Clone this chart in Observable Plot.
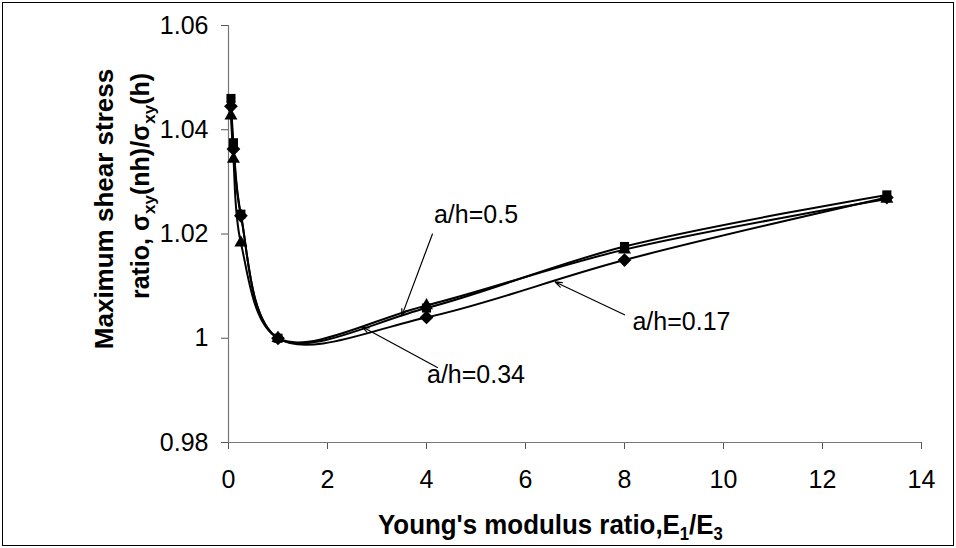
<!DOCTYPE html>
<html><head><meta charset="utf-8">
<script src="https://cdn.jsdelivr.net/npm/d3@7"></script>
<script src="https://cdn.jsdelivr.net/npm/@observablehq/plot@0.6"></script>
<style>body{margin:0;background:#fff}</style>
</head><body><div id="chart"></div>
<script>
const xs = [0.05, 0.1, 0.25, 1, 4, 8, 13.3];
const diamondY = [1.0445, 1.0363, 1.0235, 1.0, 1.0040, 1.0150, 1.0270];
const squareY = [1.0460, 1.0375, 1.0238, 1.0, 1.0058, 1.0176, 1.0275];
const triangleY = [1.0427, 1.0344, 1.0183, 1.0, 1.0063, 1.0170, 1.0267];
const xTicks = [0, 2, 4, 6, 8, 10, 12, 14];
const yTicks = [0.98, 1.0, 1.02, 1.04, 1.06];
const labels = ["a/h=0.5", "a/h=0.34", "a/h=0.17"];
const labelX = [5.0, 5.0, 9.15];
const labelY = [1.0237, 0.9929, 1.0031];
const arrowX1 = [4.12, 4.22, 8.0];
const arrowY1 = [1.0200, 0.9944, 1.0045];
const arrowX2 = [3.5, 2.7, 6.6];
const arrowY2 = [1.0043, 1.0022, 1.0108];

const mk = (ys, s) => xs.map((x, i) => ({x, y: ys[i], s}));
const dia = mk(diamondY, "d"), sq = mk(squareY, "s"), tri = mk(triangleY, "t");
const ann = labels.map((t, i) => ({t, x: labelX[i], y: labelY[i], x1: arrowX1[i], y1: arrowY1[i], x2: arrowX2[i], y2: arrowY2[i]}));

const W = 956, H = 548;
const chart = Plot.plot({
  width: W, height: H,
  marginLeft: 228, marginRight: 35, marginTop: 25, marginBottom: 106,
  style: {fontFamily: "Liberation Sans, Arial, sans-serif", fontSize: "25px", color: "#000", background: "#fff"},
  x: {domain: [0, 14], ticks: xTicks, label: null},
  y: {domain: [0.98, 1.06], ticks: yTicks, label: null},
  marks: [
    Plot.axisX({ticks: xTicks, tickSize: 7, tickPadding: 21, label: null, fontSize: 25, stroke: "#555"}),
    Plot.axisY({ticks: yTicks, tickSize: 7, tickPadding: 13, label: null, fontSize: 25, stroke: "#555", tickFormat: d => d === 1 ? "1" : String(d)}),
    Plot.ruleX([0], {stroke: "#777", strokeWidth: 1.2}),
    Plot.ruleY([0.98], {stroke: "#777", strokeWidth: 1.2}),
    Plot.line(dia, {x: "x", y: "y", curve: "catmull-rom", stroke: "#000", strokeWidth: 2}),
    Plot.line(sq, {x: "x", y: "y", curve: "catmull-rom", stroke: "#000", strokeWidth: 2}),
    Plot.line(tri, {x: "x", y: "y", curve: "catmull-rom", stroke: "#000", strokeWidth: 2}),
    Plot.dot(dia, {x: "x", y: "y", symbol: "diamond2", r: 6.2, fill: "#000", stroke: "none"}),
    Plot.dot(tri, {x: "x", y: "y", symbol: "triangle2", r: 6.2, fill: "#000", stroke: "none"}),
    Plot.dot(sq, {x: "x", y: "y", symbol: "square2", r: 5.8, fill: "#000", stroke: "none"}),
    Plot.arrow(ann, {x1: "x1", y1: "y1", x2: "x2", y2: "y2", stroke: "#000", strokeWidth: 1.2, headLength: 9, headAngle: 40}),
    Plot.text(ann, {x: "x", y: "y", text: "t", fontSize: 25, fill: "#000"})
  ]
});

document.getElementById("chart").appendChild(chart);
const svg = d3.select(chart);
svg.append("rect").attr("x", 2.5).attr("y", 2.5).attr("width", W - 5).attr("height", H - 5)
  .attr("fill", "none").attr("stroke", "#000").attr("stroke-width", 1);

// x axis title (condensed bold), scaled to span the reference width
const xg = svg.append("g");
const xt = xg.append("text").attr("x", 0).attr("y", 0).attr("text-anchor", "start")
  .attr("font-family", "Liberation Sans Narrow, Liberation Sans, Arial, sans-serif")
  .attr("font-weight", "bold").attr("font-size", 28).attr("fill", "#000");
xt.append("tspan").text("Young's modulus ratio,E");
xt.append("tspan").attr("font-size", 18).attr("dy", 6).text("1");
xt.append("tspan").attr("dy", -6).text("/E");
xt.append("tspan").attr("font-size", 18).attr("dy", 6).text("3");
const bw = xt.node().getBBox().width;
const targetW = 345, sx = targetW / bw;
xg.attr("transform", `translate(378,534) scale(${sx},1)`);

// y axis title
const g = svg.append("g")
  .attr("font-family", "Liberation Sans, Arial, sans-serif").attr("font-weight", "bold").attr("fill", "#000");
g.append("text").attr("transform", "translate(113,209) rotate(-90)").attr("text-anchor", "middle")
  .attr("font-size", 26).text("Maximum shear stress");
const y2 = g.append("text").attr("transform", "translate(149,186) rotate(-90)").attr("text-anchor", "middle").attr("font-size", 25);
y2.append("tspan").text("ratio, σ");
y2.append("tspan").attr("font-size", 17).attr("dy", 6).text("xy");
y2.append("tspan").attr("dy", -6).text("(nh)/σ");
y2.append("tspan").attr("font-size", 17).attr("dy", 6).text("xy");
y2.append("tspan").attr("dy", -6).text("(h)");
</script>
</body></html>
